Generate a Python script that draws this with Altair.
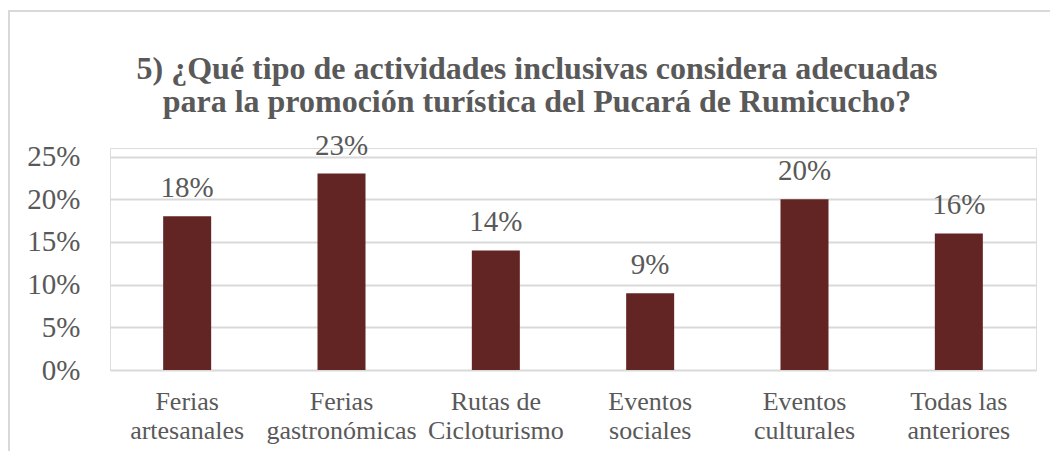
import altair as alt
import pandas as pd

categories = ["Ferias\nartesanales", "Ferias\ngastronómicas", "Rutas de\nCicloturismo",
              "Eventos\nsociales", "Eventos\nculturales", "Todas las\nanteriores"]
values = [0.18, 0.23, 0.14, 0.09, 0.20, 0.16]
title_lines = ["5) ¿Qué tipo de actividades inclusivas considera adecuadas",
               "para la promoción turística del Pucará de Rumicucho?"]

df = pd.DataFrame({"cat": categories, "val": values})

FONT = "Liberation Serif"
TXT = "#595959"
W, H = 926, 222

x_enc = alt.X("cat:N", sort=categories, title=None,
              axis=alt.Axis(labelAngle=0, labelFont=FONT, labelFontSize=26, labelColor=TXT,
                            labelExpr="split(datum.label, '\\n')", labelLineHeight=29,
                            labelPadding=18, ticks=False, domain=False, labelLimit=250))
y_enc = alt.Y("val:Q", title=None, scale=alt.Scale(domain=[0, 0.25]),
              axis=alt.Axis(format=".0%", values=[0, 0.05, 0.10, 0.15, 0.20, 0.25],
                            labelFont=FONT, labelFontSize=29, labelColor=TXT,
                            labelPadding=30, ticks=False, domain=False,
                            gridColor="#d9d9d9", gridWidth=2))

base = alt.Chart(df)
bars = base.mark_bar(color="#632523", size=48).encode(x=x_enc, y=y_enc)
labels = base.mark_text(dy=-19, font=FONT, fontSize=29, color=TXT, baseline="alphabetic").encode(
    x=alt.X("cat:N", sort=categories), y="val:Q", text=alt.Text("val:Q", format=".0%"))
border = base.mark_rect(fill=None, stroke="#d9d9d9", strokeWidth=2).encode(
    x=alt.value(-101), x2=alt.value(W + 60), y=alt.value(-137), y2=alt.value(H + 120))

chart = alt.layer(border, bars, labels).properties(
    width=W, height=H,
    autosize=alt.AutoSizeParams(type="none"),
    padding={"left": 102, "top": 140, "right": 14, "bottom": 81},
    title=alt.TitleParams(title_lines, font=FONT, fontSize=32, fontWeight="bold",
                          color=TXT, anchor="middle", dx=-36, offset=-109, lineHeight=33),
).configure_view(stroke=None).configure(background="white")

chart.save("out.html", embed_options={"renderer": "svg", "actions": False})
